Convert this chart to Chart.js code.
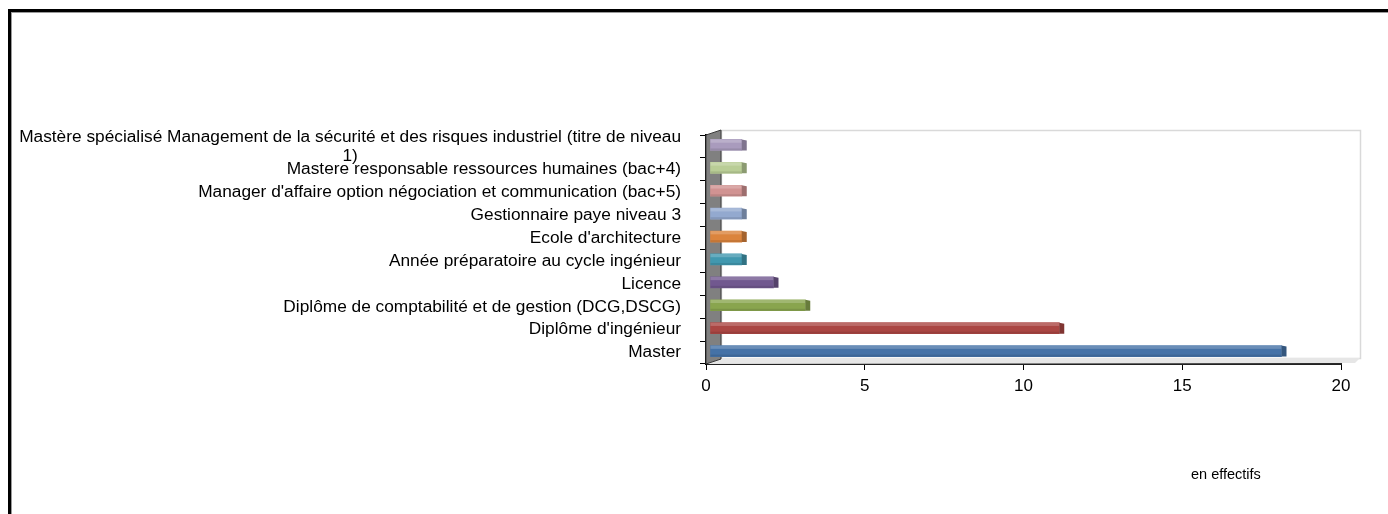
<!DOCTYPE html>
<html>
<head>
<meta charset="utf-8">
<script src="https://cdn.jsdelivr.net/npm/chart.js@4.4.1/dist/chart.umd.min.js"></script>
<style>
  html, body { margin: 0; padding: 0; background: #fff; }
  #wrap { position: relative; width: 1388px; height: 514px; overflow: hidden; }
  #frame { position: absolute; left: 8px; top: 9px; width: 1400px; height: 520px;
           border-top: 3px solid #000; border-left: 3px solid #000;
           box-shadow: inset 1px 1px 0 #9a9a9a; }
  canvas { position: absolute; left: 0; top: 0; }
  #note { position: absolute; left: 1191px; top: 466px; font: 14.5px "Liberation Sans", Arial, sans-serif; color: #000; }
</style>
</head>
<body>
<div id="wrap">
  <div id="frame"></div>
  <canvas id="myChart" width="1388" height="514"></canvas>
  <div id="note">en effectifs</div>
</div>
<script>
// categories, top to bottom as in the picture
var categories = [
  ["Mastère spécialisé Management de la sécurité et des risques industriel (titre de niveau", "1)"],
  "Mastere responsable ressources humaines (bac+4)",
  "Manager d'affaire option négociation et communication (bac+5)",
  "Gestionnaire paye niveau 3",
  "Ecole d'architecture",
  "Année préparatoire au cycle ingénieur",
  "Licence",
  "Diplôme de comptabilité et de gestion (DCG,DSCG)",
  "Diplôme d'ingénieur",
  "Master"
];
var effectifs = [1, 1, 1, 1, 1, 1, 2, 3, 11, 18];
var barColors = ['#A99BBD', '#B9CD96', '#D19392', '#93A9CF', '#DB843D',
                 '#4198AF', '#71588F', '#89A54E', '#AA4643', '#4572A7'];
var xTicks = [0, 5, 10, 15, 20];

var FONT = '"Liberation Sans", Arial, sans-serif';
var DX = 4, DY = -1.5;   // depth shift of the bars (fake 3d)

function shade(hex, f) {
  var n = parseInt(hex.slice(1), 16);
  var r = Math.round(((n >> 16) & 255) * f), g = Math.round(((n >> 8) & 255) * f), b = Math.round((n & 255) * f);
  return 'rgb(' + r + ',' + g + ',' + b + ')';
}

// walls + bar caps, excel 2007 style
var depthPlugin = {
  id: 'depth',
  beforeDatasetsDraw: function(chart) {
    var c = chart.ctx, a = chart.chartArea;
    c.save();
    // back wall
    c.strokeStyle = '#d9d9d9';
    c.lineWidth = 1.5;
    c.strokeRect(a.left + 15.5, a.top - 4.5, a.right - a.left + 4, a.bottom - a.top - 1);
    // floor shadow
    c.fillStyle = '#e6e6e6';
    c.beginPath();
    c.moveTo(a.left, a.bottom);
    c.lineTo(a.left + 15, a.bottom - 6);
    c.lineTo(a.right + 19, a.bottom - 6);
    c.lineTo(a.right + 14, a.bottom - 1);
    c.lineTo(a.left, a.bottom);
    c.fill();
    // side wall
    c.fillStyle = '#808080';
    c.strokeStyle = '#3a3a3a';
    c.lineWidth = 1;
    c.beginPath();
    c.moveTo(a.left, a.top);
    c.lineTo(a.left + 15, a.top - 5);
    c.lineTo(a.left + 15, a.bottom - 5);
    c.lineTo(a.left, a.bottom);
    c.closePath();
    c.fill();
    c.stroke();
    c.restore();
    c.save();
    c.translate(DX, DY);
  },
  afterDatasetsDraw: function(chart) {
    var c = chart.ctx;
    chart.getDatasetMeta(0).data.forEach(function(bar, i) {
      var h = bar.height, top = bar.y - h / 2, bot = bar.y + h / 2;
      // highlight / shadow stripes
      c.fillStyle = 'rgba(255,255,255,0.2)';
      c.fillRect(bar.base, top, bar.x - bar.base, h * 0.3);
      c.fillStyle = 'rgba(0,0,0,0.1)';
      c.fillRect(bar.base, bot - 2, bar.x - bar.base, 2);
      // end cap
      c.fillStyle = shade(barColors[i], 0.75);
      c.beginPath();
      c.moveTo(bar.x, top);
      c.lineTo(bar.x + 5, top + 1);
      c.lineTo(bar.x + 5, bot);
      c.lineTo(bar.x, bot);
      c.closePath();
      c.fill();
    });
    c.restore();
  }
};

// category labels: block right aligned, lines centred inside the block
var labelPlugin = {
  id: 'catLabels',
  afterDraw: function(chart) {
    var c = chart.ctx, ys = chart.scales.y, right = chart.chartArea.left - 25;
    c.save();
    c.font = '17.3px ' + FONT;
    c.fillStyle = '#000';
    c.textBaseline = 'middle';
    categories.forEach(function(lab, i) {
      var lines = Array.isArray(lab) ? lab : [lab];
      var w = Math.max.apply(null, lines.map(function(l) { return c.measureText(l).width; }));
      var yc = ys.getPixelForValue(i);
      lines.forEach(function(l, k) {
        var y = yc + (k - (lines.length - 1) / 2) * 19;
        c.textAlign = 'center';
        c.fillText(l, right - w / 2, y);
      });
    });
    c.restore();
  }
};

var ctx = document.getElementById('myChart');
var myChart = new Chart(ctx, {
  type: 'bar',
  data: {
    labels: categories,
    datasets: [{
      data: effectifs,
      backgroundColor: barColors,
      barThickness: 11,
      borderWidth: 0
    }]
  },
  options: {
    indexAxis: 'y',
    responsive: false,
    animation: false,
    layout: { padding: { top: 135, bottom: 110, right: 47, left: 0 } },
    plugins: { legend: { display: false }, tooltip: { enabled: false } },
    scales: {
      x: {
        min: 0, max: 20,
        afterBuildTicks: function(s) { s.ticks = xTicks.map(function(v) { return { value: v }; }); },
        grid: { drawOnChartArea: false, drawTicks: true, tickLength: 6, color: '#000' },
        border: { color: '#222', width: 2 },
        ticks: { color: '#000', padding: 6, font: { family: FONT, size: 17 } },
        afterFit: function(s) { s.height = 40; }
      },
      y: {
        grid: { drawOnChartArea: false, tickLength: 6, color: '#000', offset: true },
        border: { color: '#000', width: 2 },
        ticks: { display: false },
        afterFit: function(s) { s.width = 706; }
      }
    }
  },
  plugins: [depthPlugin, labelPlugin]
});
</script>
</body>
</html>
